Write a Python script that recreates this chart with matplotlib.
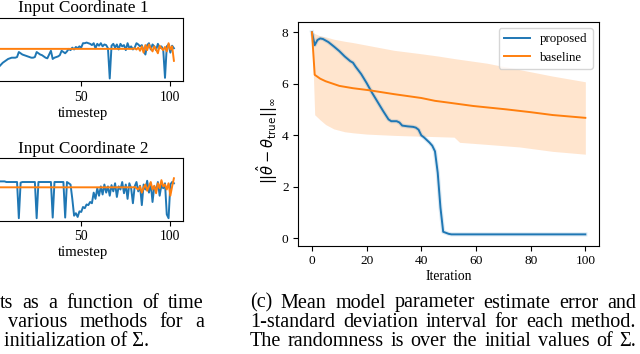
import matplotlib
matplotlib.use("Agg")
import matplotlib.pyplot as plt

plt.rcParams['font.family'] = 'Liberation Serif'

# ---------------------
# data: left panels (input coordinates, scaled 0..1)
# ---------------------
timestep = list(range(103))

coord1_proposed = [0.05, 0.10, 0.15, 0.20, 0.23, 0.26, 0.29, 0.31, 0.33, 0.35,
                   0.36, 0.37, 0.37, 0.37, 0.38, 0.46, 0.44, 0.42, 0.41, 0.40,
                   0.39, 0.38, 0.37, 0.37, 0.38, 0.46, 0.44, 0.42, 0.41, 0.39,
                   0.37, 0.36, 0.42, 0.48, 0.35, 0.37, 0.38, 0.39, 0.41, 0.48,
                   0.46, 0.44, 0.47, 0.51, 0.49, 0.53, 0.50, 0.54, 0.52, 0.55,
                   0.53, 0.60, 0.60, 0.61, 0.60, 0.59, 0.57, 0.60, 0.52, 0.59,
                   0.56, 0.60, 0.55, 0.58, 0.57, 0.52, 0.04, 0.56, 0.59, 0.53,
                   0.58, 0.50, 0.59, 0.55, 0.57, 0.49, 0.60, 0.52, 0.55, 0.50,
                   0.53, 0.60, 0.58, 0.55, 0.57, 0.48, 0.42, 0.57, 0.60, 0.50,
                   0.58, 0.55, 0.49, 0.59, 0.52, 0.55, 0.50, 0.05, 0.55, 0.58,
                   0.45, 0.56, 0.52]
coord1_base_t = [0, 79, 80, 81, 82, 83, 84, 85, 86, 87, 88, 89, 90, 91, 92,
                 93, 94, 95, 96, 97, 98, 99, 100, 101, 102]
coord1_baseline = [0.51, 0.51, 0.52, 0.50, 0.53, 0.48, 0.55, 0.45, 0.57, 0.49,
                   0.58, 0.52, 0.47, 0.55, 0.50, 0.44, 0.56, 0.52, 0.49, 0.54,
                   0.47, 0.60, 0.50, 0.55, 0.32]

coord2_proposed = [0.63, 0.63, 0.63, 0.63, 0.63, 0.63, 0.63, 0.63, 0.62, 0.62,
                   0.62, 0.62, 0.62, 0.62, 0.62, 0.04, 0.61, 0.62, 0.62, 0.62,
                   0.62, 0.62, 0.62, 0.62, 0.62, 0.04, 0.62, 0.62, 0.62, 0.62,
                   0.62, 0.62, 0.62, 0.62, 0.05, 0.62, 0.62, 0.62, 0.62, 0.62,
                   0.62, 0.05, 0.62, 0.60, 0.58, 0.35, 0.08, 0.12, 0.06, 0.15,
                   0.14, 0.22, 0.20, 0.26, 0.25, 0.30, 0.28, 0.45, 0.35, 0.52,
                   0.40, 0.55, 0.42, 0.58, 0.45, 0.55, 0.40, 0.57, 0.47, 0.60,
                   0.38, 0.55, 0.50, 0.62, 0.44, 0.58, 0.35, 0.60, 0.52, 0.28,
                   0.55, 0.62, 0.47, 0.56, 0.25, 0.58, 0.50, 0.64, 0.45, 0.60,
                   0.30, 0.55, 0.48, 0.62, 0.40, 0.57, 0.52, 0.60, 0.10, 0.04,
                   0.58, 0.62, 0.60]
coord2_base_t = coord1_base_t
coord2_baseline = [0.535, 0.535, 0.54, 0.52, 0.50, 0.55, 0.45, 0.53, 0.58, 0.48,
                   0.55, 0.62, 0.50, 0.56, 0.44, 0.60, 0.52, 0.65, 0.55, 0.58,
                   0.50, 0.60, 0.40, 0.55, 0.68]

# ---------------------
# data: right panel (parameter error)
# ---------------------
prop_x = [0, 1, 2, 3, 4, 6, 8, 10, 12, 14, 15, 16, 18, 20, 22, 24, 26, 28, 29, 31,
          32, 33, 35, 37, 38, 39, 40, 41, 43, 44, 45, 46, 47, 48, 50, 51, 60, 70, 80, 90,
          100]
prop_y = [8.0, 7.5, 7.7, 7.76, 7.74, 7.62, 7.45, 7.27, 7.06, 6.88,
          6.82, 6.66, 6.38, 6.03, 5.65, 5.3, 4.95, 4.62, 4.55, 4.55,
          4.5, 4.38, 4.35, 4.33, 4.30, 4.22, 4.0, 3.92, 3.72, 3.6,
          3.38, 2.55, 1.2, 0.26, 0.18, 0.16, 0.16, 0.16, 0.16, 0.16,
          0.16]

base_x = [0, 1, 3, 5, 10, 15, 21, 30, 40, 45, 50, 59, 71, 80, 88, 100]
base_y = [8.0, 6.35, 6.2, 6.1, 5.92, 5.83, 5.75, 5.6, 5.45, 5.34, 5.27, 5.14,
          5.01, 4.9, 4.79, 4.68]

band_x = [0, 1, 3, 5, 8, 12, 15, 20, 30, 39, 46, 52, 54, 64, 76, 88, 100]
band_hi = [8.0, 7.95, 7.86, 7.82, 7.73, 7.65, 7.6, 7.5, 7.3, 7.18, 7.08, 6.98,
           6.95, 6.8, 6.55, 6.3, 6.08]
band_lo = [8.0, 4.8, 4.6, 4.42, 4.25, 4.14, 4.1, 4.05, 4.0, 3.97, 3.95, 3.93,
           3.73, 3.65, 3.55, 3.38, 3.27]

# ---------------------
# caption text
# ---------------------
left_lines = ["ts as a function of time", "various methods for a"]
left_last = "initialization of \u03a3."
right_lines = ["(c) Mean model parameter estimate error and",
               "1-standard deviation interval for each method.",
               "The randomness is over the initial values of \u03a3."]

BLUE = '#1f77b4'
ORANGE = '#ff7f0e'
W, H = 640, 354

fig = plt.figure(figsize=(6.4, 3.54), dpi=100)


def box(left, top, right, bottom):
    return [left / W, 1 - bottom / H, (right - left) / W, (bottom - top) / H]


ax1 = fig.add_axes(box(-17, 18, 183, 81))
ax2 = fig.add_axes(box(-17, 158.3, 183, 220.7))
ax3 = fig.add_axes(box(298.3, 21.7, 599, 245.7))

for ax, title, yp, bt, yb in [(ax1, "Input Coordinate 1", coord1_proposed, coord1_base_t, coord1_baseline),
                              (ax2, "Input Coordinate 2", coord2_proposed, coord2_base_t, coord2_baseline)]:
    ax.plot(timestep, yp, color=BLUE, lw=1.4)
    ax.plot(bt, yb, color=ORANGE, lw=1.4)
    ax.set_xlim(-5.1, 107.1)
    ax.set_ylim(0, 1)
    ax.set_xticks([50, 100])
    ax.set_yticks([])
    ax.tick_params(labelsize=9.8)
    ax.set_xlabel("timestep", fontsize=10.6, labelpad=2)
    ax.set_title(title, fontsize=12.4, pad=4)

ax3.fill_between(band_x, band_lo, band_hi, color=ORANGE, alpha=0.2, lw=0)
ax3.plot(prop_x, prop_y, color=BLUE, lw=3, alpha=0.15)
ax3.plot(prop_x, prop_y, color=BLUE, lw=1.4, label="proposed")
ax3.plot(base_x, base_y, color=ORANGE, lw=1.4, label="baseline")
ax3.set_xlim(-5, 105)
ax3.set_ylim(-0.28, 8.41)
ax3.set_xticks([0, 20, 40, 60, 80, 100])
ax3.set_yticks([0, 2, 4, 6, 8])
ax3.tick_params(labelsize=9.6)
ax3.set_xlabel("Iteration", fontsize=9.8, labelpad=2)
ax3.set_ylabel(r"$||\hat{\theta} - \theta_{\mathrm{true}}||_{\infty}$", fontsize=10.5)
ax3.yaxis.set_label_coords(-0.062, 0.467)
ax3.legend(loc="upper right", fontsize=9.3)

# ---------------------
# caption (justified)
# ---------------------
CAP = 14.5
renderer = fig.canvas.get_renderer()


def justify(line, x0, x1, ybase):
    words = line.split()
    ts = [fig.text(0, 1 - ybase / H, w, fontsize=CAP, va='baseline') for w in words]
    ws = [t.get_window_extent(renderer).width for t in ts]
    gap = (x1 - x0 - sum(ws)) / (len(ws) - 1)
    x = x0
    for t, w in zip(ts, ws):
        t.set_x(x / W)
        x += w + gap


baselines = [307.5, 327, 346.5]
justify(left_lines[0], 0, 204, baselines[0])
justify(left_lines[1], 8, 204, baselines[1])
fig.text(4 / W, 1 - baselines[2] / H, left_last, fontsize=CAP, va='baseline')
for line, yb in zip(right_lines, baselines):
    justify(line, 250, 636, yb)

fig.savefig("out.png", dpi=100)
